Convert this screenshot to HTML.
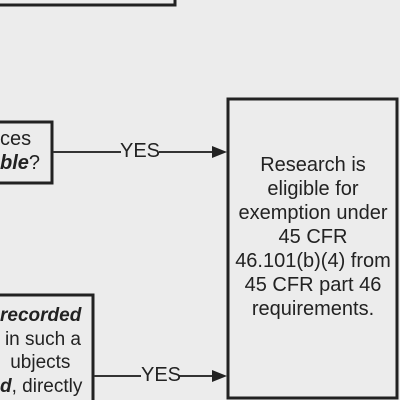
<!DOCTYPE html>
<html><head><style>
body{margin:0;width:400px;height:400px;overflow:hidden;background:#ececec;font-family:"Liberation Sans",sans-serif;color:#222}
.t{position:absolute;font-size:20px;white-space:nowrap;line-height:24px}
</style></head><body>
<svg width="400" height="400" style="position:absolute;left:0;top:0">
<g fill="none" stroke="#222" stroke-width="3">
<rect x="-10" y="-20" width="185" height="25"/>
<rect x="-10" y="122" width="62" height="61"/>
<rect x="228" y="99" width="169" height="299"/>
<rect x="-10" y="295" width="103" height="120"/>
</g>
<g stroke="#333" stroke-width="2">
<line x1="53" y1="152" x2="121" y2="152"/>
<line x1="159" y1="152" x2="215" y2="152"/>
<line x1="94" y1="376" x2="141" y2="376"/>
<line x1="179" y1="376" x2="215" y2="376"/>
</g>
<polygon points="212,146 227,152 212,158" fill="#222"/>
<polygon points="212,370 227,376 212,382" fill="#222"/>
</svg>
<div class="t" style="left:120px;top:139px">YES</div>
<div class="t" style="left:141px;top:363px">YES</div>
<div class="t" style="left:0;top:127px;width:31px;text-align:right">ces</div>
<div class="t" style="left:0;top:151px;width:37px;text-align:right"><b><i>ble</i></b>?</div>
<div class="t" style="left:228px;top:153px;width:170px;text-align:center">Research is<br>eligible for<br>exemption under<br>45 CFR<br>46.101(b)(4) from<br>45 CFR part 46<br>requirements.</div>
<div class="t" style="left:0;top:304px;width:81px;text-align:right;line-height:23.5px;font-size:19px"><b><i>recorded</i></b>&nbsp;<br>in such a<br>ubjects&nbsp;&nbsp;<br><b><i>d</i></b>, directly</div>
</body></html>
